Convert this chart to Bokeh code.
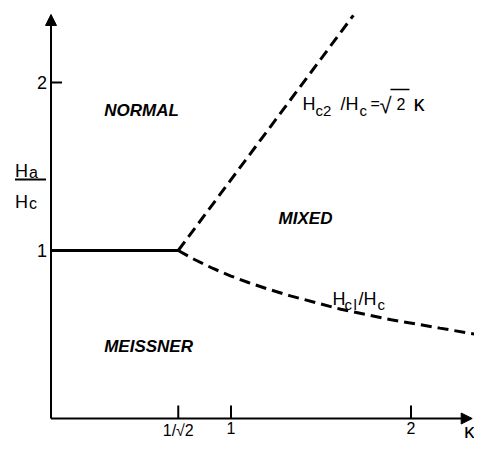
from bokeh.plotting import figure
from bokeh.models import ColumnDataSource, Arrow, NormalHead
from bokeh.core.properties import value
from bokeh.embed import file_html
from bokeh.resources import INLINE

# ---------------- data ----------------
kappa_meissner = [0.0, 0.707]
h_meissner = [1.0, 1.0]

kappa_hc2 = [0.707, 1.68]
h_hc2 = [1.0, 2.40]

kappa_hc1 = [0.707, 0.80, 0.90, 1.00, 1.10, 1.20, 1.33, 1.61, 1.89, 2.16, 2.40]
h_hc1 = [1.0, 0.945, 0.893, 0.848, 0.808, 0.772, 0.730, 0.650, 0.588, 0.538, 0.494]

x_ticks = [0.707, 1.0, 2.0]
x_tick_labels = ["1/√2", "1", "2"]
y_ticks = [1.0, 2.0]
y_tick_labels = ["1", "2"]

region_names = ["NORMAL", "MIXED", "MEISSNER"]
region_kappa = [0.503, 1.414, 0.542]
region_h = [1.833, 1.190, 0.429]

axis_end_kappa = 2.34
axis_end_h = 2.405

# label anchors (data coords)
hc2_anchor = (1.397, 1.875)
hc1_anchor = (1.564, 0.714)
ylabel_anchor = (0.0, 1.423)

# ---------------- figure ----------------
W, H = 474, 445
x0_px, y0_px = 50.5, 418.0   # pixel position of origin inside frame
sx, sy = 180.0, 168.0        # pixels per unit

p = figure(width=W, height=H, output_backend="svg", toolbar_location=None,
           x_range=(-x0_px / sx, (W - x0_px) / sx),
           y_range=(-(H - y0_px) / sy, y0_px / sy),
           min_border=0, outline_line_color=None)
p.axis.visible = False
p.grid.visible = False
p.background_fill_color = "white"

FONT = value("Liberation Sans")

# axes with arrows
p.add_layout(Arrow(end=NormalHead(size=11, fill_color="black", line_color="black"),
                   x_start=0, y_start=0, x_end=axis_end_kappa, y_end=0,
                   line_width=2, line_color="black"))
p.add_layout(Arrow(end=NormalHead(size=11, fill_color="black", line_color="black"),
                   x_start=0, y_start=0, x_end=0, y_end=axis_end_h,
                   line_width=2, line_color="black"))

# ticks
xt_len = 13 / sy
yt_len = 11 / sx
p.segment(x0=x_ticks, y0=[0] * len(x_ticks), x1=x_ticks, y1=[xt_len] * len(x_ticks),
          line_color="black", line_width=2)
p.segment(x0=[0] * len(y_ticks), y0=y_ticks, x1=[yt_len] * len(y_ticks), y1=y_ticks,
          line_color="black", line_width=2)

p.text(x=x_ticks, y=[0] * len(x_ticks), text=x_tick_labels, text_font=FONT,
       text_font_size=value("16px"), text_align="center", text_baseline="top",
       y_offset=3, text_color="black")
p.text(x=[0] * len(y_ticks), y=y_ticks, text=y_tick_labels, text_font=FONT,
       text_font_size=value("18px"), text_align="right", text_baseline="middle",
       x_offset=-4, text_color="black")
p.text(x=[(W - x0_px) / sx], y=[0], text=["κ"], text_font=FONT,
       text_font_size=value("21px"), text_align="right", text_baseline="top",
       y_offset=0, text_color="black")

# curves
p.line(kappa_meissner, h_meissner, line_color="black", line_width=3)
p.line(kappa_hc2, h_hc2, line_color="black", line_width=3, line_dash="11 6")
p.line(kappa_hc1, h_hc1, line_color="black", line_width=3, line_dash="11 6")

# region labels
p.text(x=region_kappa, y=region_h, text=region_names, text_font=FONT,
       text_font_size=value("17px"), text_font_style="bold italic",
       text_align="center", text_baseline="middle", text_color="black")

# composite labels
cols = {k: [] for k in ["x", "y", "text", "dx", "dy", "size"]}
for anc, items in [
    (hc2_anchor, [("H", 0, 0, "18px"), ("c2", 13, 7, "15px"),
                  ("/H", 38, 0, "18px"), ("c", 57, 7, "15px"),
                  ("=", 68, 0, "16px"), ("√", 77, 2, "22px"),
                  ("2", 94, 0, "16px"), ("κ", 111, 0, "22px")]),
    (hc1_anchor, [("H", 0, 0, "18px"), ("c", 12, 6, "15px"),
                  ("l", 21, 6, "15px"), ("/H", 26, 0, "18px"),
                  ("c", 45, 6, "15px")]),
    (ylabel_anchor, [("H", -36, -8, "18px"), ("a", -22, -7, "16px"),
                     ("H", -36, 23, "18px"), ("c", -22, 24, "16px")]),
]:
    n = len(items)
    cols["x"].extend([anc[0]] * n)
    cols["y"].extend([anc[1]] * n)
    for j, k in enumerate(["text", "dx", "dy", "size"]):
        cols[k].extend([i[j] for i in items])
src = ColumnDataSource(cols)
p.text(x="x", y="y", text="text", x_offset="dx", y_offset="dy",
       text_font_size="size", text_font=FONT, text_align="left",
       text_baseline="alphabetic", text_color="black", source=src)

# fraction bar of the axis title and vinculum of the square root
p.segment(x0=[ylabel_anchor[0] - 36 / sx, hc2_anchor[0] + 88 / sx],
          y0=[ylabel_anchor[1], hc2_anchor[1] + 14 / sy],
          x1=[ylabel_anchor[0] - 5 / sx, hc2_anchor[0] + 107 / sx],
          y1=[ylabel_anchor[1], hc2_anchor[1] + 14 / sy],
          line_color="black", line_width=[2, 1.5])

open("out.html", "w").write(file_html(p, INLINE))
